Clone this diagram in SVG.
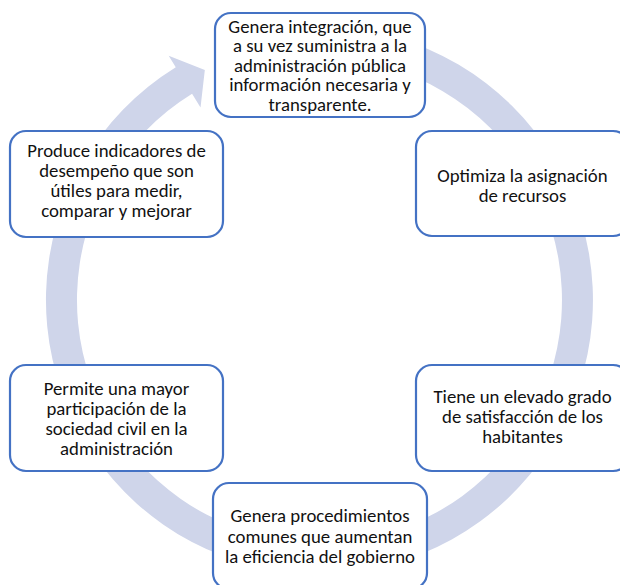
<svg xmlns="http://www.w3.org/2000/svg" width="620" height="585" viewBox="0 0 620 585">
<style>
.box{fill:#ffffff;stroke:#4472C4;stroke-width:2.2}
.lbl{font-family:"Carlito","Lato","Liberation Sans",sans-serif;font-size:18.8px;fill:#111111;text-anchor:middle}
.ring{fill:#CFD5EA}
</style>
<rect width="620" height="585" fill="#ffffff"/>
<g id="connectors">
<path class="ring" d="M262.64,32.49 A273.5,273.5 0 1 1 175.78,67.30 L168.69,55.82 L204.83,70.00 L200.53,107.38 L192.07,93.68 A242.5,242.5 0 1 0 269.08,62.81 Z"/>
</g>
<g id="node-top">
<rect class="box" x="215" y="13" width="210" height="104" rx="16"/>
<text class="lbl" x="320" y="33">Genera integración, que</text>
<text class="lbl" x="320" y="52.4">a su vez suministra a la</text>
<text class="lbl" x="320" y="71.8">administración pública</text>
<text class="lbl" x="320" y="91.2">información necesaria y</text>
<text class="lbl" x="320" y="110.6">transparente.</text>
</g>
<g id="node-right-top">
<rect class="box" x="416" y="131" width="213" height="105" rx="16"/>
<text class="lbl" x="522.5" y="182">Optimiza la asignación</text>
<text class="lbl" x="522.5" y="201.5">de recursos</text>
</g>
<g id="node-right-bottom">
<rect class="box" x="416" y="365" width="213" height="106" rx="16"/>
<text class="lbl" x="522.5" y="403">Tiene un elevado grado</text>
<text class="lbl" x="522.5" y="423">de satisfacción de los</text>
<text class="lbl" x="522.5" y="443">habitantes</text>
</g>
<g id="node-bottom">
<rect class="box" x="213" y="483" width="214" height="106" rx="16"/>
<text class="lbl" x="320" y="522">Genera procedimientos</text>
<text class="lbl" x="320" y="542.5">comunes que aumentan</text>
<text class="lbl" x="320" y="563">la eficiencia del gobierno</text>
</g>
<g id="node-left-bottom">
<rect class="box" x="10" y="365" width="213" height="106" rx="16"/>
<text class="lbl" x="116.5" y="395">Permite una mayor</text>
<text class="lbl" x="116.5" y="415">participación de la</text>
<text class="lbl" x="116.5" y="435">sociedad civil en la</text>
<text class="lbl" x="116.5" y="455">administración</text>
</g>
<g id="node-left-top">
<rect class="box" x="10" y="131" width="213" height="106" rx="16"/>
<text class="lbl" x="116.5" y="157">Produce indicadores de</text>
<text class="lbl" x="116.5" y="177">desempeño que son</text>
<text class="lbl" x="116.5" y="197">útiles para medir,</text>
<text class="lbl" x="116.5" y="217">comparar y mejorar</text>
</g>
</svg>
